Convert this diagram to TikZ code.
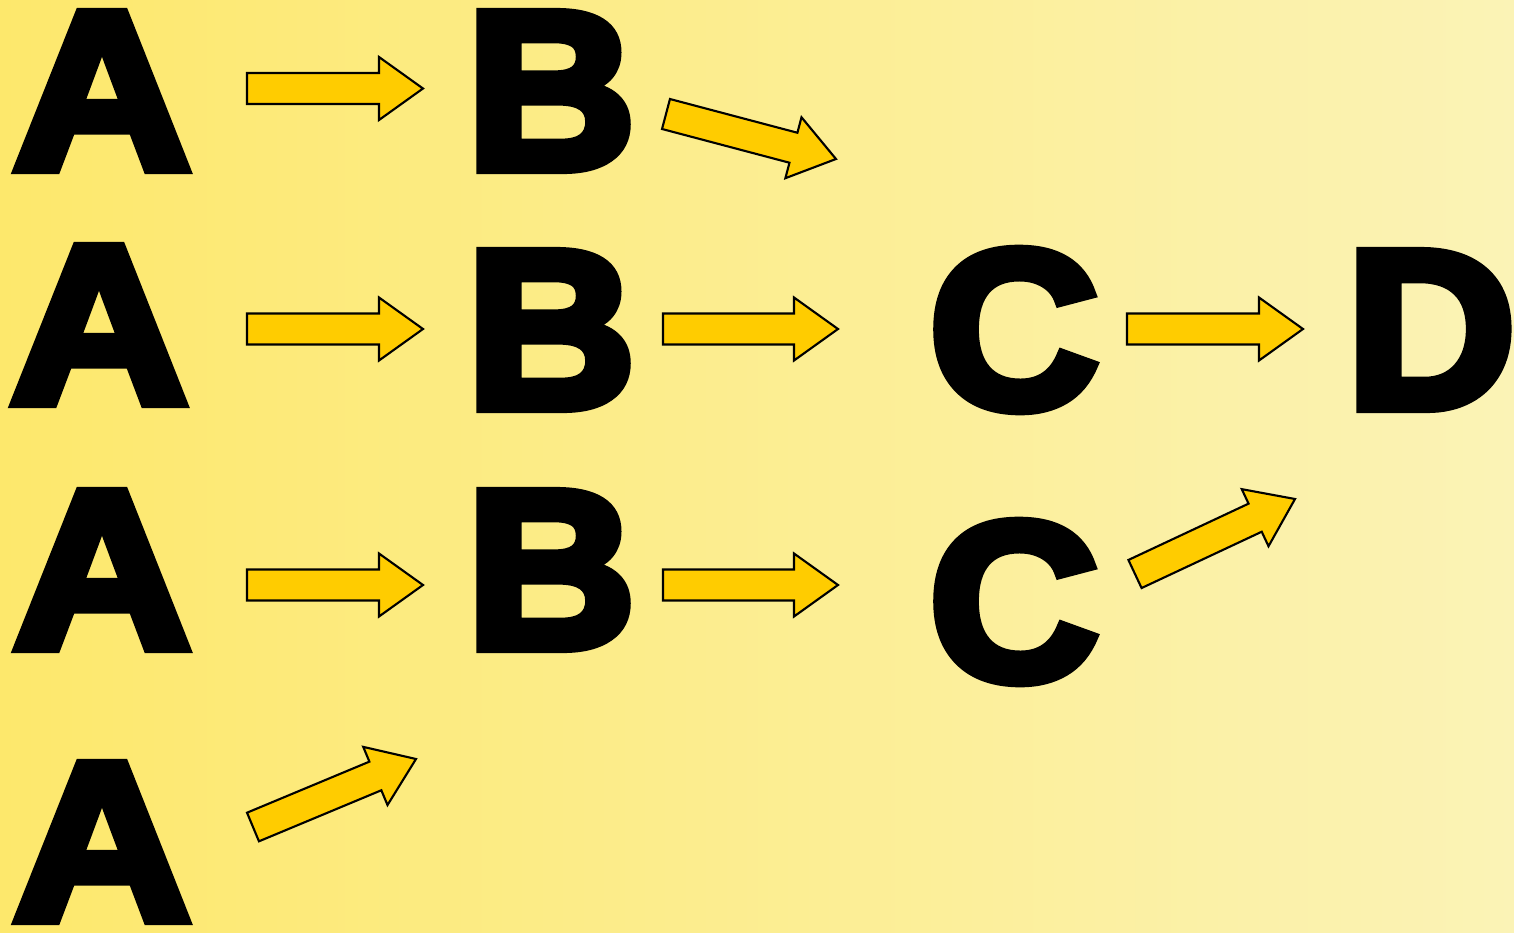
\documentclass[tikz,border=0pt]{standalone}
\usepackage{fontspec}
\setmainfont{Liberation Sans}
\newfontfamily\heavyfont{Liberation Sans}[UprightFont=*, BoldFont=* Bold, BoldFeatures={FakeBold=5}]
\usetikzlibrary{calc}
\definecolor{bgleft}{HTML}{FDE86C}
\definecolor{bgright}{HTML}{FBF3B6}
\definecolor{arrowgold}{HTML}{FFCC00}

\tikzset{
  letter/.style={inner sep=0pt, font=\fontsize{64}{64}\heavyfont\bfseries},
  narrowletter/.style={letter, xscale=1.04},
  wideletter/.style={letter, xscale=1.09},
  % fat outlined arrow between two points
  blockarrow/.style={draw=black, fill=arrowgold, line width=0.6pt, line join=miter,
    to path={
      ($(\tikztostart)!0.155cm!-90:(\tikztotarget)$)
      -- ($($(\tikztotarget)!0.44cm!(\tikztostart)$)!0.155cm!90:(\tikztostart)$)
      -- ($($(\tikztotarget)!0.44cm!(\tikztostart)$)!0.315cm!90:(\tikztostart)$)
      -- (\tikztotarget)
      -- ($($(\tikztotarget)!0.44cm!(\tikztostart)$)!0.315cm!-90:(\tikztostart)$)
      -- ($($(\tikztotarget)!0.44cm!(\tikztostart)$)!0.155cm!-90:(\tikztostart)$)
      -- ($(\tikztostart)!0.155cm!90:(\tikztotarget)$)
      -- cycle}}
}

\begin{document}
\begin{tikzpicture}[x=0.01cm, y=-0.01cm]
  \shade[left color=bgleft, right color=bgright] (0,0) rectangle (1514,933);
  \useasboundingbox (0,0) rectangle (1514,933);

  % letters
  \node[wideletter] (a1) at (102,91)  {A};
  \node[wideletter] (a2) at (99,325)  {A};
  \node[wideletter] (a3) at (102,570) {A};
  \node[wideletter] (a4) at (102,842) {A};
  \node[narrowletter] (b1) at (551,91)  {B};
  \node[narrowletter] (b2) at (551,330) {B};
  \node[narrowletter] (b3) at (551,570) {B};
  \node[narrowletter] (c2) at (1014,330) {C};
  \node[narrowletter] (c3) at (1014,602) {C};
  \node[narrowletter] (d2) at (1431,330) {D};

  % arrow ends
  \coordinate (a1s) at (247,88.5);  \coordinate (a1e) at (423,88.5);
  \coordinate (b1s) at (666,114);   \coordinate (b1e) at (836,159);
  \coordinate (a2s) at (247,329);   \coordinate (a2e) at (423,329);
  \coordinate (b2s) at (663,329);   \coordinate (b2e) at (838,329);
  \coordinate (c2s) at (1127,329);  \coordinate (c2e) at (1303,329);
  \coordinate (a3s) at (247,585);   \coordinate (a3e) at (423,585);
  \coordinate (b3s) at (663,585);   \coordinate (b3e) at (838,585);
  \coordinate (c3s) at (1135,574);  \coordinate (c3e) at (1295,499);
  \coordinate (a4s) at (253,827);   \coordinate (a4e) at (416,759);

  \foreach \p in {a1,b1,a2,b2,c2,a3,b3,c3,a4}
    \draw[blockarrow] (\p s) to (\p e);
\end{tikzpicture}
\end{document}
